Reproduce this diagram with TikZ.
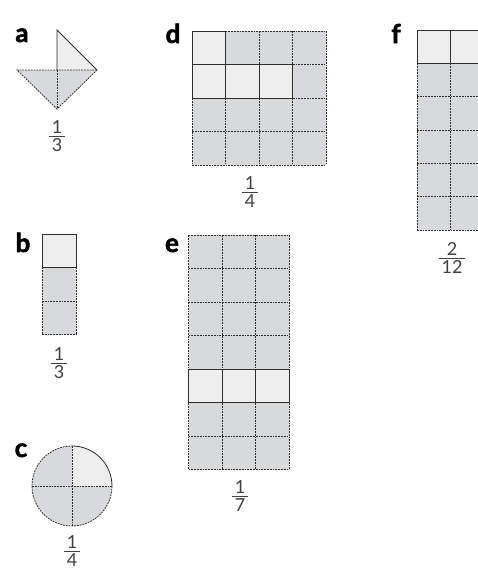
\documentclass[tikz,border=0pt]{standalone}
\usepackage{fontspec}
\setmainfont{Lato}
\newfontfamily\heavyfont{Lato}[BoldFeatures={FakeBold=2}]
\usepackage{xcolor}
\definecolor{partgrey}{HTML}{D8D9DA}
\definecolor{takengrey}{HTML}{EEEEEE}
\definecolor{edgegrey}{HTML}{2E2E2E}
\setlength{\arrayrulewidth}{0.8pt}
\newcommand{\fracpart}[2]{\renewcommand{\arraystretch}{0.75}%
	\begin{tabular}{@{\,}c@{\,}}#1\\[-2pt]\hline\rule{0pt}{15pt}#2\end{tabular}}

\begin{document}
\begin{tikzpicture}[x=1pt,y=-1pt,
	gridline/.style={draw=edgegrey,line width=0.8pt,dash pattern=on 1.8pt off 1pt},
	taken/.style={fill=takengrey,draw=edgegrey,line width=0.8pt},
	letter/.style={font=\fontsize{26}{26}\selectfont\heavyfont\bfseries,inner sep=0pt,anchor=base},
	fraction/.style={font=\fontsize{18}{18}\selectfont,text=black!75,inner sep=0pt}]
	
	\clip (0,0) rectangle (478,570);
	
	% a: square cut along a diagonal
	\fill[partgrey] (17,70) -- (97,70) -- (57,109) -- cycle;
	\fill[takengrey] (57,30) -- (97,70) -- (57,70) -- cycle;
	\draw[edgegrey,line width=0.8pt] (57,70) -- (57,30) -- (97,70);
	\draw[gridline] (97,70) -- (17,70) -- (57,109) -- (97,70);
	\draw[gridline] (57,70) -- (57,109);
	\node[letter] (lbla) at (22,42) {a};
	\node[fraction] (fraca) at (57,138) {\fracpart{1}{3}};
	
	% b: strip of three
	\fill[partgrey] (42,234) rectangle (76,334.5);
	\foreach \i in {1,2,3}
		\draw[gridline] (42,{234+33.5*\i}) -- ++(34,0);
	\draw[gridline] (42,267.5) -- (42,334.5);
	\draw[gridline] (76,267.5) -- (76,334.5);
	\draw[taken] (42,234) rectangle (76,267.5);
	\node[letter] (lblb) at (23,252) {b};
	\node[fraction] (fracb) at (59,365) {\fracpart{1}{3}};
	
	% c: circle in quarters
	\fill[partgrey] (72,486) circle[radius=40];
	\fill[takengrey] (72,486) -- (72,446) arc[start angle=-90,end angle=0,radius=40] -- cycle;
	\draw[gridline] (112,486) arc[start angle=0,end angle=270,radius=40];
	\draw[edgegrey,line width=0.8pt] (72,446) arc[start angle=-90,end angle=0,radius=40];
	\draw[gridline] (32,486) -- (112,486);
	\draw[gridline] (72,446) -- (72,526);
	\node[letter] (lblc) at (21,457) {c};
	\node[fraction] (fracc) at (72,553) {\fracpart{1}{4}};
	
	% d: 4 by 4
	\fill[partgrey] (192,31) rectangle (326,165);
	\foreach \i in {0,...,4} {
		\draw[gridline] ({192+33.5*\i},31) -- ++(0,134);
		\draw[gridline] (192,{31+33.5*\i}) -- ++(134,0);
	}
	\foreach \c/\r in {0/0,0/1,1/1,2/1}
		\draw[taken] ({192+33.5*\c},{31+33.5*\r}) rectangle ++(33.5,33.5);
	\node[letter] (lbld) at (173,43) {d};
	\node[fraction] (fracd) at (250,194) {\fracpart{1}{4}};
	
	% e: 3 by 7
	\fill[partgrey] (188.5,235) rectangle (289.3,469.5);
	\foreach \i in {0,...,3}
		\draw[gridline] ({188.5+33.6*\i},235) -- ++(0,234.5);
	\foreach \i in {0,...,7}
		\draw[gridline] (188.5,{235+33.5*\i}) -- ++(100.8,0);
	\foreach \c in {0,1,2}
		\draw[taken] ({188.5+33.6*\c},369) rectangle ++(33.6,33.5);
	\node[letter] (lble) at (172,252) {e};
	\node[fraction] (frace) at (240,498) {\fracpart{1}{7}};
	
	% f: 2 by 6
	\fill[partgrey] (417,30) rectangle (484,230);
	\foreach \i in {0,1,2}
		\draw[gridline] ({417+33.5*\i},30) -- ++(0,200);
	\foreach \i in {0,...,6}
		\draw[gridline] (417,{30+33.33*\i}) -- ++(67,0);
	\foreach \c in {0,1}
		\draw[taken] ({417+33.5*\c},30) rectangle ++(33.5,33.33);
	\node[letter] (lblf) at (396,43) {f};
	\node[fraction] (fracf) at (452,260) {\fracpart{2}{12}};
	
\end{tikzpicture}
\end{document}
